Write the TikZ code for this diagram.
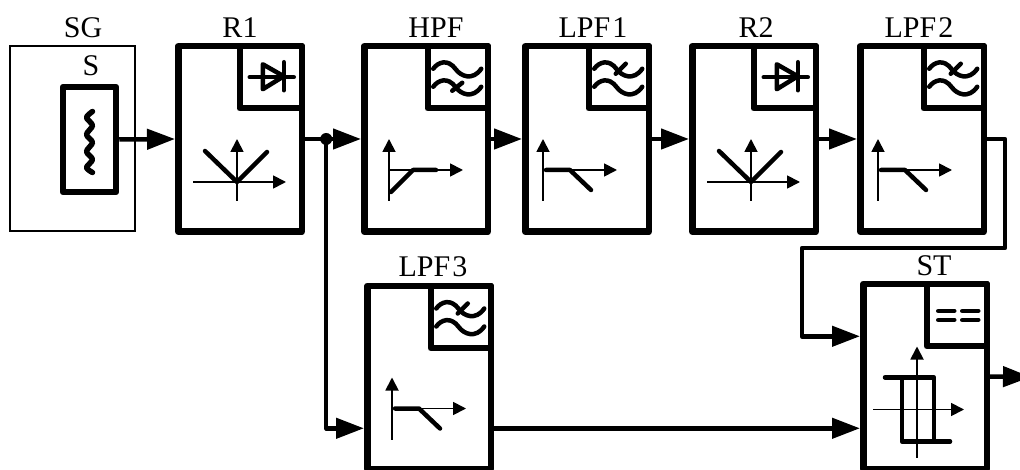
\documentclass[tikz,border=0pt]{standalone}
\usepackage{fontspec}
\setmainfont{Liberation Serif}
\usetikzlibrary{positioning,arrows.meta,calc}
\tikzset{>={Triangle[length=28pt,width=20pt]}}
\tikzset{
    blockbox/.style={draw,line width=6.5pt,line join=round,minimum width=123.5pt,minimum height=185.5pt,inner sep=0pt},
    tilebox/.style={draw,line width=6.5pt,line join=round,minimum width=60pt,minimum height=62pt,inner sep=0pt,anchor=north east},
    tagnode/.style={anchor=base,inner sep=0pt,font=\fontsize{30}{32}\selectfont},
    wire/.style={line width=4.5pt,line join=round},
    axis/.style={line width=1.8pt,-{Triangle[length=13pt,width=13pt]}},
    trace/.style={line width=4.5pt,line cap=round,line join=round},
    absplot/.pic={
        \draw[axis] (-44,0) -- (49,0);
        \draw[axis] (0,19) -- (0,-43);
        \draw[trace] (-32,-31) -- (0,0) -- (30,-30);
    },
    lowplot/.pic={
        \draw[axis] (0,0) -- (74,0);
        \draw[axis] (0,31) -- (0,-31);
        \draw[trace] (3,0) -- (27,0) -- (48,20);
    },
    highplot/.pic={
        \draw[axis] (0,0) -- (74,0);
        \draw[axis] (0,31) -- (0,-31);
        \draw[trace] (2,22) -- (24,0) -- (47,0);
    },
    hystplot/.pic={
        \draw[axis] (-44,0) -- (47,0);
        \draw[axis] (0,48) -- (0,-63);
        \draw[trace] (-32,-32) -- (17,-32) -- (17,32);
        \draw[trace] (33,32) -- (-15,32) -- (-15,-32);
    },
    wavepair/.pic={
        \draw[trace] (-24.5,-8.5) .. controls (-20,-15) and (-10,-19) .. (-2,-8) .. controls (3,-1) and (15,4) .. (23.5,-8.5);
        \draw[trace] (-24.5,9.5) .. controls (-20,3) and (-10,-1) .. (-2,10) .. controls (3,17) and (15,22) .. (23.5,9.5);
    },
    lowwave/.pic={
        \pic {wavepair};
        \draw[trace] (-3,-3.5) -- (7,-13.5);
    },
    highwave/.pic={
        \pic {wavepair};
        \draw[trace] (-5.5,13.5) -- (4.5,5.5);
    },
    diodemark/.pic={
        \draw[trace] (-21,0) -- (23,0);
        \draw[trace] (-8,-13) -- (-8,12) -- (13,-1) -- cycle;
        \draw[trace] (13,-15) -- (13,13);
    },
    equalmark/.pic={
        \draw[trace] (-18.5,-4) -- (-2.5,-4);
        \draw[trace] (-18.5,5) -- (-2.5,5);
        \draw[trace] (5.5,-4) -- (21.5,-4);
        \draw[trace] (5.5,5) -- (21.5,5);
    },
    coilmark/.pic={
        \draw[trace,line width=5.5pt] plot[smooth] coordinates {(3,-28) (-3,-22) (3,-14) (-3,-5) (3,3) (-3,12) (3,20) (-3,28) (3,33)};
    }
}

\begin{document}
\begin{tikzpicture}[x=1pt,y=-1pt]
    \useasboundingbox (0,0) rectangle (1020,470);
    \node[draw,line width=1.5pt,minimum width=125pt,minimum height=185pt,inner sep=0pt] (sg) at (72.5,138.5) {};
    \node[blockbox,minimum width=53pt,minimum height=105pt] (s) at (89.5,139.5) {};
    \node[blockbox] (r1) at (240,139) {};
    \node[blockbox] (hpf) [right=56pt of r1] {};
    \node[blockbox] (lpf1) [right=31pt of hpf] {};
    \node[blockbox] (r2) [right=37pt of lpf1] {};
    \node[blockbox] (lpf2) [right=38pt of r2] {};
    \node[blockbox,minimum height=183pt] (lpf3) at (429,377.5) {};
    \node[blockbox,minimum height=185pt] (st) at (925,376.5) {};
    % corner tiles
    \node[tilebox,minimum width=62pt] (r1t) at (r1.north east) {};
    \node[tilebox] (hpft) at (hpf.north east) {};
    \node[tilebox] (lpf1t) at (lpf1.north east) {};
    \node[tilebox,minimum width=62pt] (r2t) at (r2.north east) {};
    \node[tilebox] (lpf2t) at (lpf2.north east) {};
    \node[tilebox] (lpf3t) at (lpf3.north east) {};
    \node[tilebox] (stt) at (st.north east) {};
    % names
    \node[tagnode] (sgl) at (83,38) {SG};
    \node[tagnode] (sl) at (91,76) {S};
    \node[tagnode] (r1l) at (240,38) {R1};
    \node[tagnode] (hpfl) at (436,38) {HPF};
    \node[tagnode] (lpf1l) at (593,38) {LPF\kern2pt 1};
    \node[tagnode] (r2l) at (756,38) {R2};
    \node[tagnode] (lpf2l) at (919,38) {LPF\kern2pt 2};
    \node[tagnode] (lpf3l) at (433,277) {LPF\kern2pt 3};
    \node[tagnode] (stl) at (934,276) {ST};
    % marks in the tiles
    \pic at (r1t.center) {diodemark};
    \pic at (hpft.center) {highwave};
    \pic at (lpf1t.center) {lowwave};
    \pic at (r2t.center) {diodemark};
    \pic at (lpf2t.center) {lowwave};
    \pic at (lpf3t.center) {lowwave};
    \pic at (stt.center) {equalmark};
    % characteristics
    \pic at ($(r1.center)+(-3,43)$) {absplot};
    \pic at ($(hpf.center)+(-37,31)$) {highplot};
    \pic at ($(lpf1.center)+(-44,31)$) {lowplot};
    \pic at ($(r2.center)+(-3,43)$) {absplot};
    \pic at ($(lpf2.center)+(-44,31)$) {lowplot};
    \pic at ($(lpf3.center)+(-37,31)$) {lowplot};
    \pic at ($(st.center)+(-8,33)$) {hystplot};
    \pic at (s.center) {coilmark};
    % connectors
    \node[circle,fill,inner sep=0pt,minimum size=12pt] (j1) [right=15pt of r1] {};
    \coordinate (c1) at (1005,248);
    \coordinate (c2) at (802,248);
    \coordinate (out) at (1031,377);
    \coordinate (lpf3in) at ($(lpf3.north west)!0.768!(lpf3.south west)$);
    \coordinate (stin1) at ($(st.north west)!0.29!(st.south west)$);
    \draw[wire,->] (s.east) -- (r1.west);
    \draw[wire,->] (r1.east) -- (hpf.west);
    \draw[wire,->] (hpf.east) -- (lpf1.west);
    \draw[wire,->] (lpf1.east) -- (r2.west);
    \draw[wire,->] (r2.east) -- (lpf2.west);
    \draw[wire,->] (j1.center) |- (lpf3in);
    \draw[wire,->] (lpf2.east) -| (c1) -- (c2) |- (stin1);
    \draw[wire,->] (lpf3in -| lpf3.east) -- (lpf3in -| st.west);
    \draw[wire,->] (st.east) -- (out);
\end{tikzpicture}
\end{document}
